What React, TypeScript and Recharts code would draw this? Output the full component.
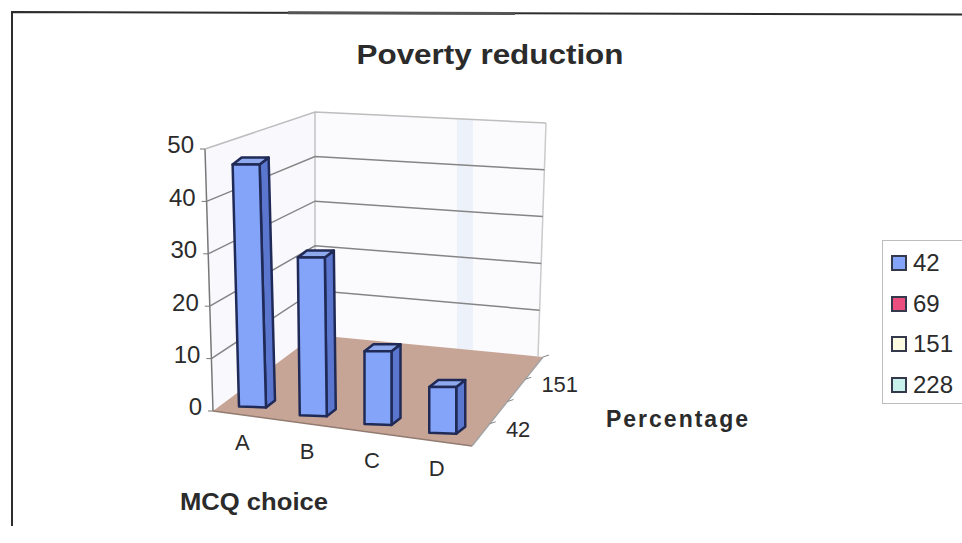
import { BarChart, Bar, XAxis, YAxis, CartesianGrid, Legend } from 'recharts';

const choices = ['A', 'B', 'C', 'D'];
const percentages = [47.6, 31, 14.3, 9];
const valueTicks = [0, 10, 20, 30, 40, 50];
const seriesNames = ['42', '69', '151', '228'];
const seriesColors = ['#84a4fa', '#ea4f80', '#fbfbe2', '#c9f1ec'];
const depthTicks = ['42', '151'];

const chartData = choices.map((choice, i) => ({ choice, percentage: percentages[i] }));

const FONT = '"Liberation Sans", Arial, sans-serif';
const TEXT = '#2b2b2b';

// Outline of the 3D box, in pixels on the chart surface
const FRONT_TOP = { x: 205, y: 149 };
const FRONT_BOTTOM = { x: 213, y: 411 };
const BACK_TOP = { x: 315, y: 112 };
const BACK_BOTTOM = { x: 315, y: 335 };
const SIDE_TOP = { x: 546, y: 123 };
const SIDE_BOTTOM = { x: 538, y: 357 };
const FLOOR_RIGHT = { x: 543, y: 357 };
const FRONT_RIGHT = { x: 472, y: 446 };
const PLOT_HEIGHT = FRONT_BOTTOM.y - FRONT_TOP.y;

const FLOOR_SLOPE = (FRONT_RIGHT.y - FRONT_BOTTOM.y) / (FRONT_RIGHT.x - FRONT_BOTTOM.x);
const BAR_SHIFT_X = 3;
const BAR_SHIFT_Y = -9;
const BAR_DEPTH_X = 9;
const BAR_DEPTH_Y = -7;
const DEPTH_SCALE = 0.97;

const mix = (a: number, b: number, t: number) => a + (b - a) * t;
const pts = (list: number[][]) => list.map(p => p.join(',')).join(' ');

// Wall lines for one value level, running along the left wall and then the right wall
const WallLine = (props: any) => {
    const t = (FRONT_BOTTOM.y - props.y1) / PLOT_HEIGHT;
    const left = [mix(FRONT_BOTTOM.x, FRONT_TOP.x, t), props.y1];
    const back = [BACK_BOTTOM.x, mix(BACK_BOTTOM.y, BACK_TOP.y, t)];
    const side = [mix(SIDE_BOTTOM.x, SIDE_TOP.x, t), mix(SIDE_BOTTOM.y, SIDE_TOP.y, t)];
    const isTop = t > 0.99;
    const isBase = t < 0.01;
    return (
        <g key={props.key}>
            {isBase && (
                <g>
                    <polygon
                        points={pts([[FRONT_TOP.x, FRONT_TOP.y], [BACK_TOP.x, BACK_TOP.y], [BACK_BOTTOM.x, BACK_BOTTOM.y], [FRONT_BOTTOM.x, FRONT_BOTTOM.y]])}
                        fill="#f9f8fd"
                    />
                    <polygon
                        points={pts([[BACK_TOP.x, BACK_TOP.y], [SIDE_TOP.x, SIDE_TOP.y], [SIDE_BOTTOM.x, SIDE_BOTTOM.y], [BACK_BOTTOM.x, BACK_BOTTOM.y]])}
                        fill="#fbfafd"
                    />
                    <polygon points={pts([[457, 118], [473, 119], [473, 350], [457, 349]])} fill="#edf1f9" />
                    <polygon
                        points={pts([[FRONT_BOTTOM.x, FRONT_BOTTOM.y], [BACK_BOTTOM.x, BACK_BOTTOM.y], [FLOOR_RIGHT.x, FLOOR_RIGHT.y], [FRONT_RIGHT.x, FRONT_RIGHT.y]])}
                        fill="#c6a596"
                    />
                    <line x1={FRONT_BOTTOM.x} y1={FRONT_BOTTOM.y} x2={FRONT_TOP.x} y2={FRONT_TOP.y} stroke="#777" strokeWidth={1.5} />
                    <line x1={BACK_BOTTOM.x} y1={BACK_BOTTOM.y} x2={BACK_TOP.x} y2={BACK_TOP.y} stroke="#c2c2c2" strokeWidth={1.5} />
                    <line x1={SIDE_BOTTOM.x} y1={SIDE_BOTTOM.y} x2={SIDE_TOP.x} y2={SIDE_TOP.y} stroke="#cbcbcb" strokeWidth={1.5} />
                    <line x1={FRONT_BOTTOM.x} y1={FRONT_BOTTOM.y} x2={FRONT_RIGHT.x} y2={FRONT_RIGHT.y} stroke="#927b70" strokeWidth={1.5} />
                </g>
            )}
            {!isBase && (
                <polyline
                    points={pts([left, back, side])}
                    fill="none"
                    stroke={isTop ? '#bdbdbd' : '#858585'}
                    strokeWidth={1.5}
                />
            )}
        </g>
    );
};

// Box-shaped bar: the flat rectangle is sheared onto the floor and given a side and top face
const Bar3D = (props: any) => {
    const { x, y, width, height } = props;
    const tall = height * DEPTH_SCALE;
    const lean = Math.max(0, 8 * (1 - (x - FRONT_BOTTOM.x) / 140)) * (tall / PLOT_HEIGHT);
    // bars closest to the left wall sit slightly further in
    const inset = Math.max(0, 4 * (1 - (x - 232) / 65));
    const baseY = y + height + (x + width / 2 - FRONT_BOTTOM.x) * FLOOR_SLOPE + BAR_SHIFT_Y;
    const left = x + BAR_SHIFT_X + inset;
    const bl = [left, baseY];
    const br = [left + width, baseY + 1];
    const tl = [left - lean, baseY - tall];
    const tr = [left + width - lean, baseY - tall];
    const shift = (p: number[]) => [p[0] + BAR_DEPTH_X, p[1] + BAR_DEPTH_Y];
    return (
        <g stroke="#202a56" strokeWidth={2.5} strokeLinejoin="round">
            <polygon points={pts([br, shift(br), shift(tr), tr])} fill="#5b76cf" />
            <polygon points={pts([tl, tr, shift(tr), shift(tl)])} fill="#8ea9ee" />
            <polygon points={pts([bl, br, tr, tl])} fill={seriesColors[0]} />
        </g>
    );
};

const ValueTick = (props: any) => {
    const { y, payload } = props;
    const t = (FRONT_BOTTOM.y - y) / PLOT_HEIGHT;
    const axisX = mix(FRONT_BOTTOM.x, FRONT_TOP.x, t);
    return (
        <g>
            <line x1={axisX - 5} y1={y} x2={axisX} y2={y} stroke="#777" />
            <text
                x={axisX - 11}
                y={y - 2}
                textAnchor="end"
                dominantBaseline="middle"
                fontFamily={FONT}
                fontSize={24}
                fill={TEXT}
            >
                {payload.value}
            </text>
        </g>
    );
};

const ChoiceTick = (props: any) => {
    const { x, payload } = props;
    const floorY = FRONT_BOTTOM.y + (x - FRONT_BOTTOM.x) * FLOOR_SLOPE;
    return (
        <text
            x={x - 3}
            y={floorY + 29}
            textAnchor="middle"
            dominantBaseline="middle"
            fontFamily={FONT}
            fontSize={22}
            fill={TEXT}
        >
            {payload.value}
        </text>
    );
};

// Series depth axis along the right edge of the floor
const DepthAxis = () => (
    <g>
        <line x1={FRONT_RIGHT.x} y1={FRONT_RIGHT.y} x2={FLOOR_RIGHT.x} y2={FLOOR_RIGHT.y} stroke="#a3a3a3" strokeWidth={1.5} />
        {seriesNames.map((name, i) => {
            const t = (i + 1) / seriesNames.length;
            const px = mix(FRONT_RIGHT.x, FLOOR_RIGHT.x, t);
            const py = mix(FRONT_RIGHT.y, FLOOR_RIGHT.y, t);
            return <line key={name} x1={px} y1={py} x2={px + 6} y2={py - 2} stroke="#888" />;
        })}
        {depthTicks.map(name => {
            const t = (seriesNames.indexOf(name) + 0.5) / seriesNames.length;
            return (
                <text
                    key={name}
                    x={mix(FRONT_RIGHT.x, FLOOR_RIGHT.x, t) + 25}
                    y={mix(FRONT_RIGHT.y, FLOOR_RIGHT.y, t) - 4}
                    dominantBaseline="middle"
                    fontFamily={FONT}
                    fontSize={22}
                    fill={TEXT}
                >
                    {name}
                </text>
            );
        })}
    </g>
);

const SeriesLegend = () => (
    <div
        style={{
            width: 80,
            height: 164,
            boxSizing: 'border-box',
            border: '1px solid #bdbdbd',
            borderRight: 'none',
            background: '#fff',
            padding: '2px 0 0 8px',
            fontFamily: FONT,
            fontSize: 24,
            color: TEXT,
        }}
    >
        {seriesNames.map((name, i) => (
            <div key={name} style={{ display: 'flex', alignItems: 'center', height: 40.5 }}>
                <span
                    style={{
                        display: 'inline-block',
                        width: 12,
                        height: 12,
                        marginRight: 6,
                        background: seriesColors[i],
                        border: '2px solid #33384a',
                    }}
                />
                {name}
            </div>
        ))}
    </div>
);

export default function App() {
    return (
        <div style={{ position: 'absolute', left: 0, top: 0, width: 962, height: 543, background: '#fff' }}>
            <BarChart
                width={962}
                height={543}
                data={chartData}
                margin={{ top: 149, right: 409, bottom: 102, left: 153 }}
            >
                {/* Frame round the sheet, running slightly off level */}
                <polyline points="12,526 12,12 962,14.5" fill="none" stroke="#2d2d2d" strokeWidth={2} />
                <line x1={288} y1={12.8} x2={515} y2={13.4} stroke="#555" strokeWidth={3} />
                <CartesianGrid vertical={false} horizontal={WallLine as any} />
                <XAxis dataKey="choice" height={30} axisLine={false} tickLine={false} tick={ChoiceTick as any} interval={0} />
                <YAxis
                    type="number"
                    width={60}
                    domain={[0, 50]}
                    ticks={valueTicks}
                    axisLine={false}
                    tickLine={false}
                    tick={ValueTick as any}
                />
                <Legend
                    layout="vertical"
                    align="right"
                    verticalAlign="top"
                    width={81}
                    content={SeriesLegend}
                    wrapperStyle={{ left: 882, top: 240, right: 'auto' }}
                />
                <Bar dataKey="percentage" name={seriesNames[0]} barSize={27} shape={Bar3D as any} isAnimationActive={false} />
                <DepthAxis />
                <text x={490} y={64} textAnchor="middle" fontFamily={FONT} fontSize={27} fontWeight={700} fill={TEXT} textLength={267} lengthAdjust="spacingAndGlyphs">
                    Poverty reduction
                </text>
                <text x={606} y={427} fontFamily={FONT} fontSize={23} fontWeight={700} fill={TEXT} textLength={142} lengthAdjust="spacing">
                    Percentage
                </text>
                <text x={180} y={510} fontFamily={FONT} fontSize={23} fontWeight={700} fill={TEXT} textLength={148} lengthAdjust="spacingAndGlyphs">
                    MCQ choice
                </text>
            </BarChart>
        </div>
    );
}
